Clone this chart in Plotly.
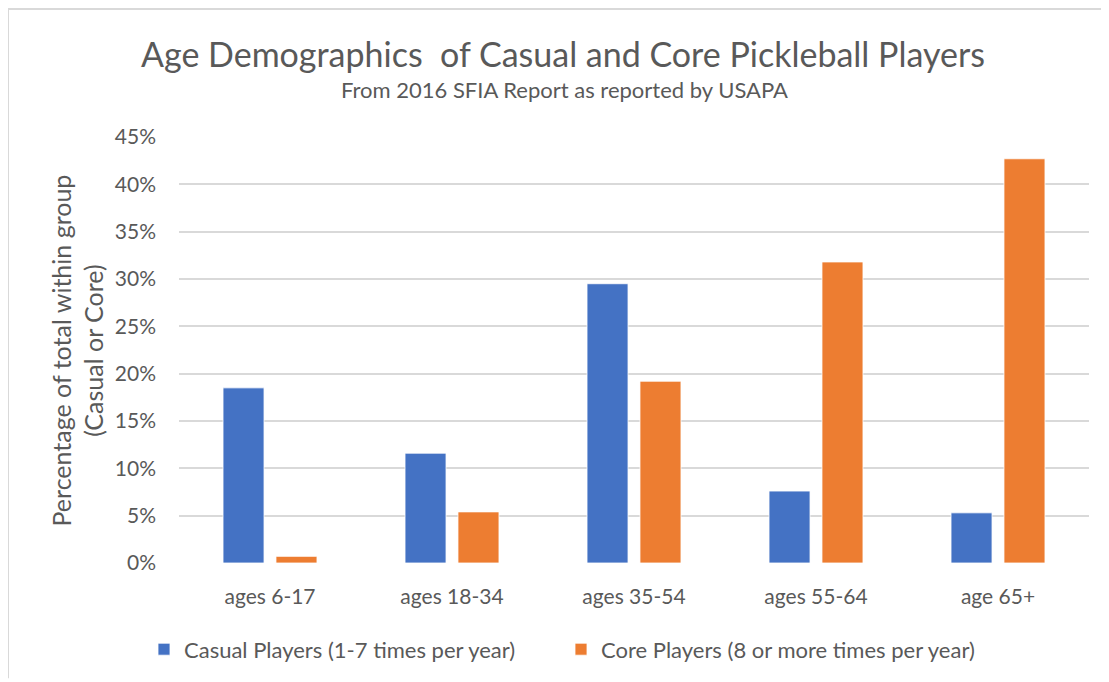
import plotly.graph_objects as go

categories = ["ages 6-17", "ages 18-34", "ages 35-54", "ages 55-64", "age 65+"]
casual = [0.185, 0.116, 0.295, 0.076, 0.053]
core = [0.007, 0.054, 0.192, 0.318, 0.427]
series_names = ["Casual Players (1-7 times per year)", "Core Players (8 or more times per year)"]
tick_vals = [0, 0.05, 0.10, 0.15, 0.20, 0.25, 0.30, 0.35, 0.40, 0.45]
tick_text = ["0%", "5%", "10%", "15%", "20%", "25%", "30%", "35%", "40%", "45%"]

FONT = "Lato"
GRAY = "#595959"
OFF = 8  # page body margin offset

fig = go.Figure()
fig.add_trace(go.Bar(x=categories, y=casual, name=series_names[0],
                     marker=dict(color="#4472C4", line=dict(color="#FFFFFF", width=0.8))))
fig.add_trace(go.Bar(x=categories, y=core, name=series_names[1],
                     marker=dict(color="#ED7D31", line=dict(color="#FFFFFF", width=0.8))))

W, H = 1101, 674
# plot area in page coordinates: x 179..1089, y 137..566
L = 179 - OFF
T = 137 - OFF
R = W - (1089 - OFF)
B = H - (566 - OFF)
pw, ph = W - L - R, H - T - B

def px(x):
    return (x - OFF - L) / pw

def py(y):
    return (H - B - (y - OFF)) / ph

fig.update_layout(
    width=W, height=H,
    margin=dict(l=L, r=R, t=T, b=B, pad=0),
    paper_bgcolor="white", plot_bgcolor="white",
    barmode="group", bargap=0.418, bargroupgap=0.226,
    font=dict(family=FONT, color=GRAY, size=18),
    showlegend=True,
    legend=dict(orientation="h", x=px(561), xanchor="center", y=py(653), yanchor="middle",
                font=dict(size=22, color=GRAY, family=FONT), itemwidth=30, entrywidth=372,
                bgcolor="rgba(0,0,0,0)"),
    xaxis=dict(showgrid=False, showline=False, zeroline=False, ticks="",
               tickfont=dict(size=21, color=GRAY, family=FONT), ticklabelstandoff=19),
    yaxis=dict(range=[0, 0.45], tickvals=tick_vals, ticktext=tick_text,
               showgrid=True, gridcolor="#D9D9D9", gridwidth=1.5,
               zeroline=False, showline=False, ticks="",
               tickfont=dict(size=21, color=GRAY, family=FONT), ticklabelstandoff=22),
    annotations=[
        dict(text="Age Demographics  of Casual and Core Pickleball Players", x=px(563), y=py(53),
             xref="paper", yref="paper", showarrow=False, xanchor="center", yanchor="middle",
             font=dict(size=34, color=GRAY, family=FONT)),
        dict(text="From 2016 SFIA Report as reported by USAPA", x=px(564), y=py(89),
             xref="paper", yref="paper", showarrow=False, xanchor="center", yanchor="middle",
             font=dict(size=22, color=GRAY, family=FONT)),
        dict(text="Percentage of total within group<br>(Casual or Core)", x=px(77), y=py(352),
             xref="paper", yref="paper", showarrow=False, xanchor="center", yanchor="middle",
             textangle=-90, font=dict(size=25, color=GRAY, family=FONT)),
    ],
    shapes=[
        dict(type="line", xref="paper", yref="paper", x0=px(7), x1=px(1109), y0=py(8), y1=py(8),
             line=dict(color="#D9D9D9", width=2)),
        dict(type="line", xref="paper", yref="paper", x0=px(8), x1=px(8), y0=py(8), y1=py(682),
             line=dict(color="#D9D9D9", width=2)),
    ],
)

fig.write_html("out.html")
